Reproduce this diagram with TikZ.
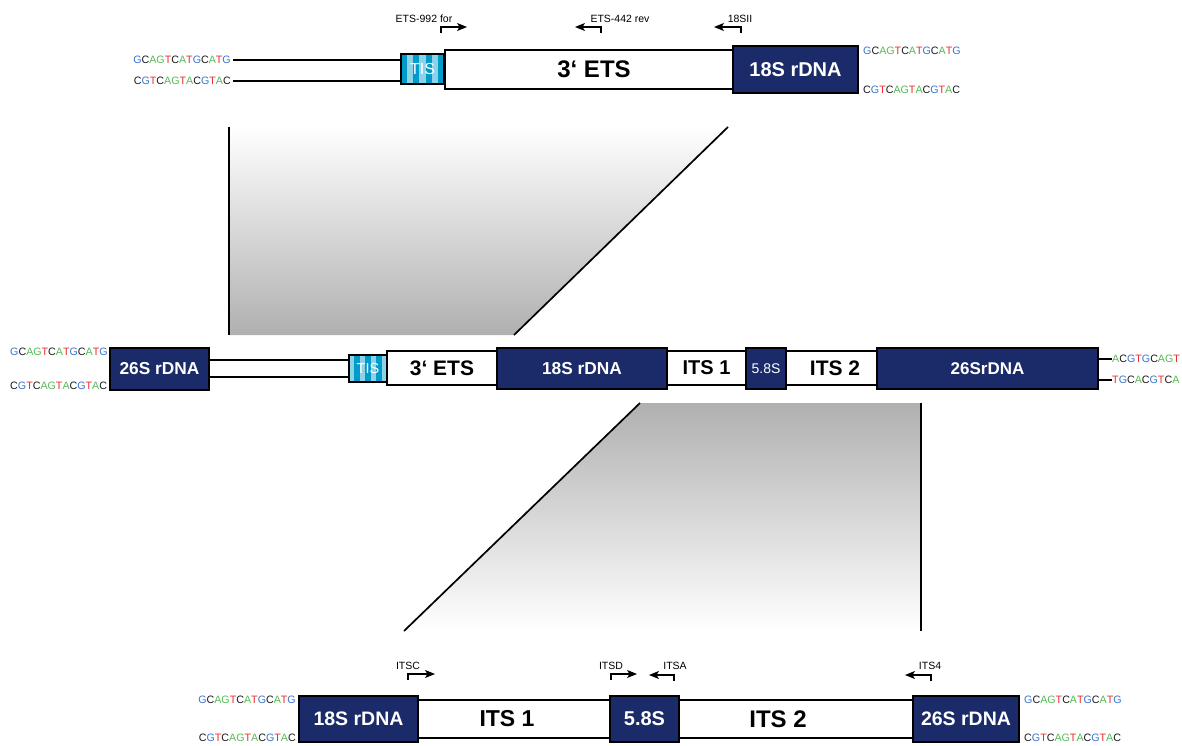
\documentclass[tikz,border=0pt]{standalone}
\usepackage{fontspec}
\setmainfont{Liberation Sans}
\usetikzlibrary{arrows.meta}
\definecolor{navy}{RGB}{27,43,105}
\definecolor{tisdark}{RGB}{0,155,200}
\definecolor{tislight}{RGB}{140,210,232}
\definecolor{ntA}{RGB}{85,185,85}
\definecolor{ntT}{RGB}{235,45,45}
\definecolor{ntG}{RGB}{55,115,205}
\definecolor{ntC}{RGB}{25,25,25}
\definecolor{shadegray}{RGB}{176,176,176}
\newcommand{\nuA}{\textcolor{ntA}{A}}
\newcommand{\nuC}{\textcolor{ntC}{C}}
\newcommand{\nuG}{\textcolor{ntG}{G}}
\newcommand{\nuGg}{\textcolor{ntA}{G}}
\newcommand{\nuT}{\textcolor{ntT}{T}}
\newcommand{\seqfw}{\nuG\nuC\nuA\nuGg\nuT\nuC\nuA\nuT\nuG\nuC\nuA\nuT\nuG}
\newcommand{\seqrv}{\nuC\nuG\nuT\nuC\nuA\nuGg\nuT\nuA\nuC\nuG\nuT\nuA\nuC}
\newcommand{\shiftx}[2]{\makebox[0pt][c]{\kern#1pt #2}}
\tikzset{
  navybox/.style={draw=black, line width=2.6pt, fill=navy, text=white, inner sep=0pt},
  whitebox/.style={draw=black, line width=1.7pt, fill=white, inner sep=0pt},
  tisbox/.style={draw=black, line width=1.6pt, inner sep=0pt, text=white},
  strand/.style={line width=1.5pt},
  guide/.style={line width=1.7pt},
  primer/.style={line width=1.1pt, -{Stealth[length=10pt,width=8pt,inset=2.5pt]}},
  plabel/.style={font=\fontsize{10.5}{12}\selectfont, inner sep=0pt},
  seq/.style={font=\fontsize{10.7}{13}\selectfont, inner sep=0pt},
  fs/.style={font=\bfseries\fontsize{#1}{#1}\selectfont},
}
\begin{document}
\begin{tikzpicture}[x=1pt,y=-1pt]
\useasboundingbox (0,0) rectangle (1182,746);

% ---------- zoom shading ----------
\coordinate (gA1) at (229,127);
\coordinate (gA2) at (229,335);
\coordinate (gA3) at (728,127);
\coordinate (gA4) at (514,335);
\shade[top color=white, bottom color=shadegray] (gA1) -- (gA3) -- (gA4) -- (gA2) -- cycle;
\draw[guide] (gA1) -- (gA2);
\draw[guide] (gA3) -- (gA4);

\coordinate (gB1) at (640,403);
\coordinate (gB2) at (921,403);
\coordinate (gB3) at (404,631);
\coordinate (gB4) at (921,631);
\shade[top color=shadegray, bottom color=white] (gB1) -- (gB2) -- (gB4) -- (gB3) -- cycle;
\draw[guide] (gB1) -- (gB3);
\draw[guide] (gB2) -- (gB4);

% ---------- top row ----------
\node[seq, anchor=east] (tl1) at (231,60) {\seqfw};
\node[seq, anchor=east] (tl2) at (231,81) {\seqrv};
\foreach \i in {0,...,6} {
  \pgfmathsetmacro{\xa}{401+\i*43/7}
  \pgfmathsetmacro{\xb}{401+(\i+1)*43/7}
  \pgfmathparse{mod(\i,2)==0 ? "tisdark" : "tislight"}
  \fill[\pgfmathresult] (\xa,54) rectangle (\xb,84);
}
\node[tisbox, minimum width=43, minimum height=30, font=\fontsize{16}{16}\selectfont] (tisT) at (422.5,69) {TIS};
\draw[strand] ([xshift=2pt]tl1.east) -- (tl1.east -| tisT.west);
\draw[strand] ([xshift=2pt]tl2.east) -- (tl2.east -| tisT.west);
\node[whitebox, minimum width=288, minimum height=39, fs=24] (etsT) at (589,69.5) {\shiftx{10}{3‘ ETS}};
\node[navybox, minimum width=125, minimum height=47, fs=20] (s18T) at (795.5,69.5) {18S rDNA};
\node[seq, anchor=west] (tr1) at (863,51) {\seqfw};
\node[seq, anchor=west] (tr2) at (863,90) {\seqrv};

% primers top
\coordinate (pr1) at (441,33);
\draw[primer] (pr1) -- ++(0,-6) -- ++(26,0);
\node[plabel] (lpr1) at (424,19) {ETS-992 for};
\coordinate (pr2) at (601,33);
\draw[primer] (pr2) -- ++(0,-6) -- ++(-26,0);
\node[plabel] (lpr2) at (620,19) {ETS-442 rev};
\coordinate (pr3) at (741,33);
\draw[primer] (pr3) -- ++(0,-6) -- ++(-27,0);
\node[plabel] (lpr3) at (740,19) {18SII};

% ---------- middle row ----------
\node[seq, anchor=west] (ml1) at (10,352) {\seqfw};
\node[seq, anchor=west] (ml2) at (10,386) {\seqrv};
\node[navybox, minimum width=99, minimum height=42, fs=17.3] (s26L) at (159.5,369) {26S rDNA};
\foreach \i in {0,...,6} {
  \pgfmathsetmacro{\xa}{349+\i*38/7}
  \pgfmathsetmacro{\xb}{349+(\i+1)*38/7}
  \pgfmathparse{mod(\i,2)==0 ? "tislight" : "tisdark"}
  \fill[\pgfmathresult] (\xa,355) rectangle (\xb,382);
}
\node[tisbox, minimum width=38, minimum height=27, font=\fontsize{14.5}{14.5}\selectfont] (tisM) at (368,368.5) {TIS};
\coordinate (mU) at (0,360);
\coordinate (mL) at (0,377);
\draw[strand] (s26L.east |- mU) -- (tisM.west |- mU);
\draw[strand] (s26L.east |- mL) -- (tisM.west |- mL);
\node[whitebox, minimum width=110, minimum height=34, fs=21] (etsM) at (442,368) {3‘ ETS};
\node[whitebox, minimum width=79, minimum height=34, fs=20] (its1M) at (706.5,368) {ITS 1};
\node[whitebox, minimum width=91, minimum height=34, fs=21] (its2M) at (831.5,368) {\shiftx{7}{ITS 2}};
\node[navybox, minimum width=170, minimum height=41, fs=17.3] (s18M) at (582,368.5) {18S rDNA};
\node[navybox, minimum width=40, minimum height=41, font=\fontsize{14}{14}\selectfont] (s58M) at (766,368.5) {5.8S};
\node[navybox, minimum width=221, minimum height=41, fs=17] (s26M) at (987.5,368.5) {26SrDNA};
\node[seq, anchor=west] (mr1) at (1112,359) {\nuA\nuC\nuG\nuT\nuG\nuC\nuA\nuGg\nuT};
\node[seq, anchor=west] (mr2) at (1112,380) {\nuT\nuG\nuC\nuA\nuC\nuG\nuT\nuC\nuA};
\draw[strand] (s26M.east |- mr1.west) -- (mr1.west);
\draw[strand] (s26M.east |- mr2.west) -- (mr2.west);

% ---------- bottom row ----------
\node[seq, anchor=east] (bl1) at (296,700) {\seqfw};
\node[seq, anchor=east] (bl2) at (296,738) {\seqrv};
\node[whitebox, minimum width=192, minimum height=38, fs=23] (its1B) at (514,719) {\shiftx{-14}{ITS 1}};
\node[whitebox, minimum width=234, minimum height=38, fs=24] (its2B) at (796,719) {\shiftx{-36}{ITS 2}};
\node[navybox, minimum width=119, minimum height=46, fs=19.5] (s18B) at (358.5,719) {18S rDNA};
\node[navybox, minimum width=69, minimum height=46, fs=20] (s58B) at (644.5,719) {5.8S};
\node[navybox, minimum width=106, minimum height=46, fs=19.5] (s26B) at (966,719) {26S rDNA};
\node[seq, anchor=west] (br1) at (1024,700) {\seqfw};
\node[seq, anchor=west] (br2) at (1024,738) {\seqrv};

% primers bottom
\coordinate (pb1) at (408,680);
\draw[primer] (pb1) -- ++(0,-6) -- ++(27,0);
\node[plabel] (lpb1) at (408,666) {ITSC};
\coordinate (pb2) at (611,680);
\draw[primer] (pb2) -- ++(0,-6) -- ++(26,0);
\node[plabel] (lpb2) at (611,666) {ITSD};
\coordinate (pb3) at (674,681);
\draw[primer] (pb3) -- ++(0,-6) -- ++(-25,0);
\node[plabel] (lpb3) at (675,666) {ITSA};
\coordinate (pb4) at (931,681);
\draw[primer] (pb4) -- ++(0,-6) -- ++(-26,0);
\node[plabel] (lpb4) at (930,666) {ITS4};
\end{tikzpicture}
\end{document}
